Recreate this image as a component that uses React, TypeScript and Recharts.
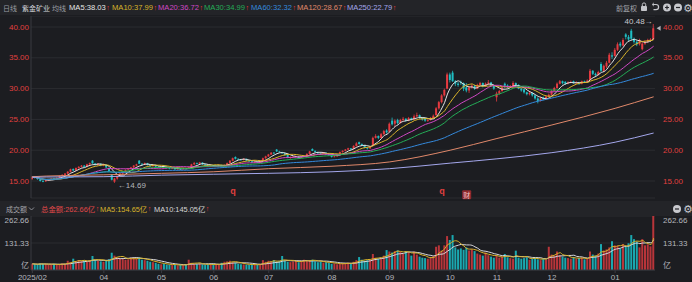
import React from 'react';
import { ComposedChart, Bar, Line, XAxis, YAxis, CartesianGrid, Cell, ReferenceDot } from 'recharts';

// month axis: label and trading days in each month
const monthLabels = ['2025/02', '03', '04', '05', '06', '07', '08', '09', '10', '11', '12', '01'];
const monthDays = [5, 21, 21, 19, 20, 23, 21, 22, 17, 20, 23, 15];
const skippedLabels = ['03'];

// daily candles: [open, high, low, close]
const febCandles = [
  [15.3, 15.8, 15.2, 15.7], [15.7, 15.8, 15.4, 15.5], [15.5, 15.6, 15.2, 15.3], [15.3, 15.4, 14.9, 15.0], [15.0, 15.2, 14.8, 14.95],
];
const marCandles = [
  [14.95, 15.2, 14.85, 15.1], [15.1, 15.35, 15.0, 15.3], [15.3, 15.5, 15.2, 15.4], [15.45, 15.5, 15.25, 15.35], [15.35, 15.6, 15.3, 15.5],
  [15.5, 15.9, 15.45, 15.8], [15.8, 16.1, 15.7, 16.0], [16.0, 16.3, 15.9, 16.2], [16.2, 16.6, 16.1, 16.5], [16.5, 17.0, 16.4, 16.9],
  [16.95, 17.05, 16.6, 16.7], [16.7, 17.2, 16.6, 17.1], [17.1, 17.4, 17.0, 17.3], [17.3, 17.6, 17.2, 17.5], [17.5, 17.6, 17.2, 17.3],
  [17.3, 17.8, 17.25, 17.7], [17.7, 18.0, 17.6, 17.9], [18.3, 18.4, 17.8, 17.85], [17.85, 17.9, 17.5, 17.6], [17.6, 17.9, 17.5, 17.8],
  [17.8, 17.85, 17.4, 17.5],
];
const aprCandles = [
  [17.5, 17.8, 17.4, 17.7], [17.6, 17.7, 17.1, 17.2], [17.1, 17.2, 16.5, 16.6], [16.0, 16.1, 15.1, 15.2], [14.9, 15.5, 14.69, 15.4],
  [15.4, 15.9, 15.2, 15.8], [15.9, 16.3, 15.8, 16.2], [16.2, 16.6, 16.0, 16.5], [16.5, 16.9, 16.4, 16.8], [16.9, 17.1, 16.7, 17.0],
  [17.0, 17.3, 16.9, 17.2], [17.2, 17.6, 17.1, 17.5], [17.5, 17.8, 17.4, 17.7], [18.3, 18.4, 17.75, 17.8], [17.8, 17.9, 17.5, 17.7],
  [17.7, 18.0, 17.6, 17.9], [17.9, 17.95, 17.5, 17.6], [17.6, 17.7, 17.3, 17.4], [17.4, 17.7, 17.3, 17.6], [17.6, 17.65, 17.2, 17.3],
  [17.3, 17.4, 17.1, 17.2],
];
const mayCandles = [
  [17.2, 17.4, 17.1, 17.3], [17.5, 17.6, 17.2, 17.3], [17.3, 17.35, 17.0, 17.1], [17.1, 17.2, 16.9, 17.0], [17.0, 17.2, 16.95, 17.1],
  [17.1, 17.15, 16.8, 16.9], [16.9, 17.1, 16.85, 17.0], [17.0, 17.05, 16.8, 16.9], [16.9, 17.2, 16.85, 17.1], [17.1, 17.15, 16.9, 17.0],
  [17.0, 17.3, 16.95, 17.2], [17.2, 17.8, 17.2, 17.7], [17.7, 18.1, 17.6, 17.9], [17.9, 18.0, 17.7, 17.8], [17.8, 18.1, 17.7, 18.0],
  [18.0, 18.05, 17.6, 17.7], [17.7, 17.8, 17.4, 17.5], [17.5, 17.6, 17.3, 17.4], [17.4, 17.6, 17.35, 17.5],
];
const junCandles = [
  [17.5, 17.55, 17.3, 17.4], [17.4, 17.6, 17.35, 17.5], [17.5, 17.7, 17.45, 17.6], [17.6, 17.65, 17.35, 17.4], [17.4, 17.7, 17.35, 17.6],
  [17.6, 18.0, 17.55, 17.9], [17.9, 18.4, 17.85, 18.3], [18.3, 18.8, 18.2, 18.7], [18.9, 19.0, 18.5, 18.6], [18.6, 18.7, 18.4, 18.5],
  [18.5, 18.6, 18.3, 18.4], [18.4, 18.7, 18.35, 18.6], [18.6, 18.65, 18.2, 18.3], [18.3, 18.4, 18.1, 18.2], [18.2, 18.3, 17.9, 18.0],
  [18.0, 18.2, 17.9, 18.1], [18.1, 18.15, 17.9, 18.0], [18.0, 18.4, 17.95, 18.3], [18.3, 18.8, 18.25, 18.7], [18.7, 19.1, 18.6, 19.0],
];
const julCandles = [
  [19.0, 19.4, 18.9, 19.3], [19.3, 19.7, 19.2, 19.6], [19.6, 19.7, 19.35, 19.5], [20.1, 20.2, 19.7, 19.8], [19.8, 19.9, 19.6, 19.7],
  [19.7, 19.75, 19.4, 19.5], [19.5, 19.55, 19.1, 19.2], [19.2, 19.3, 18.7, 18.8], [18.8, 19.0, 18.6, 18.9], [18.85, 19.05, 18.75, 18.95],
  [18.95, 19.1, 18.85, 19.0], [19.0, 19.05, 18.7, 18.8], [18.8, 19.1, 18.75, 19.0], [19.0, 19.2, 18.9, 19.1], [19.1, 19.5, 19.05, 19.4],
  [19.4, 19.9, 19.35, 19.8], [20.2, 20.3, 19.85, 19.9], [19.9, 19.95, 19.6, 19.7], [19.7, 19.75, 19.4, 19.5], [19.5, 19.6, 19.3, 19.4],
  [19.4, 19.7, 19.35, 19.6], [19.6, 19.65, 19.25, 19.3], [19.3, 19.4, 19.1, 19.2],
];
const augCandles = [
  [19.2, 19.25, 18.8, 18.9], [18.9, 19.1, 18.85, 19.0], [19.0, 19.5, 18.95, 19.4], [19.4, 19.8, 19.35, 19.7], [19.7, 20.0, 19.6, 19.9],
  [19.9, 20.2, 19.8, 20.1], [20.1, 20.4, 20.0, 20.3], [20.3, 20.35, 20.0, 20.2], [20.2, 20.8, 20.15, 20.7], [20.7, 21.3, 20.6, 21.1],
  [21.3, 21.4, 20.9, 21.0], [21.0, 21.1, 20.7, 20.8], [20.8, 20.85, 20.3, 20.4], [20.4, 20.5, 20.1, 20.3], [20.3, 20.7, 20.2, 20.6],
  [20.7, 22.2, 20.6, 22.0], [22.0, 22.6, 21.9, 22.3], [22.3, 22.4, 21.8, 22.0], [22.0, 22.8, 21.9, 22.6], [22.6, 23.3, 22.5, 23.1],
  [23.2, 23.4, 22.7, 22.9],
];
const sepCandles = [
  [23.0, 24.5, 22.9, 24.3], [24.8, 25.3, 24.0, 24.2], [24.3, 25.0, 23.8, 24.8], [24.9, 25.1, 24.2, 24.4], [24.4, 25.1, 24.3, 24.9],
  [24.9, 25.4, 24.7, 25.1], [25.1, 25.2, 24.6, 24.8], [24.8, 25.4, 24.7, 25.2], [25.2, 25.3, 24.8, 25.0], [25.0, 25.8, 24.9, 25.5],
  [25.5, 26.1, 25.4, 25.7], [25.7, 25.8, 25.1, 25.3], [25.3, 25.4, 24.8, 25.0], [25.2, 25.3, 24.6, 24.8], [24.8, 25.1, 24.6, 24.9],
  [24.9, 25.4, 24.8, 25.2], [25.2, 25.8, 25.1, 25.6], [25.7, 27.0, 25.6, 26.8], [26.8, 28.0, 26.6, 27.8], [27.8, 29.1, 27.6, 28.9],
  [28.9, 30.0, 28.7, 29.8], [30.0, 32.6, 29.9, 32.3],
];
const octCandles = [
  [32.3, 32.6, 31.0, 31.4], [32.6, 32.9, 31.1, 31.2], [31.2, 31.4, 30.4, 30.8], [30.8, 31.1, 30.3, 30.6], [31.1, 31.3, 30.6, 30.9],
  [30.9, 31.0, 29.6, 30.0], [30.2, 30.9, 29.4, 29.7], [29.7, 30.4, 29.3, 30.2], [30.2, 30.7, 30.0, 30.5], [30.5, 30.6, 29.8, 30.0],
  [30.0, 30.8, 29.9, 30.6], [30.6, 31.1, 30.4, 30.9], [30.9, 31.0, 30.2, 30.4], [30.4, 31.0, 30.3, 30.8], [30.8, 31.4, 30.6, 31.0],
  [31.0, 31.1, 30.3, 30.5], [30.5, 30.6, 29.8, 30.0],
];
const novCandles = [
  [28.6, 29.5, 27.9, 29.2], [29.2, 29.8, 29.0, 29.6], [29.6, 30.4, 29.5, 30.2], [30.8, 31.0, 30.1, 30.5], [30.5, 30.7, 30.1, 30.3],
  [30.3, 30.6, 30.1, 30.4], [30.2, 31.2, 30.1, 30.9], [30.9, 31.0, 30.4, 30.6], [30.6, 30.7, 29.9, 30.0], [30.0, 30.1, 29.5, 29.7],
  [29.9, 30.0, 29.2, 29.4], [29.4, 29.5, 28.9, 29.1], [29.1, 29.5, 28.9, 29.3], [29.3, 29.4, 28.7, 28.9], [28.9, 29.0, 28.2, 28.4],
  [28.4, 28.6, 27.6, 28.0], [28.0, 28.6, 27.9, 28.4], [28.6, 28.7, 28.1, 28.3], [28.3, 28.9, 28.2, 28.7], [28.7, 29.2, 28.6, 29.0],
];
const decCandles = [
  [29.0, 29.8, 28.9, 29.6], [29.6, 30.3, 29.5, 30.1], [30.1, 31.0, 30.0, 30.8], [30.8, 31.4, 30.7, 31.2], [31.2, 31.3, 30.7, 30.9],
  [31.1, 31.2, 30.6, 30.8], [30.8, 31.2, 30.7, 31.0], [31.0, 31.3, 30.9, 31.1], [31.2, 31.3, 30.8, 30.9], [30.9, 31.2, 30.8, 31.0],
  [31.0, 31.1, 30.6, 30.8], [30.8, 31.3, 30.7, 31.2], [31.2, 31.3, 30.9, 31.1], [31.1, 31.5, 31.0, 31.3], [31.4, 33.2, 31.3, 32.9],
  [32.9, 33.0, 32.2, 32.4], [32.4, 32.6, 32.0, 32.2], [32.2, 32.9, 32.1, 32.7], [34.0, 34.3, 32.7, 32.9], [32.9, 33.9, 32.7, 33.7],
  [33.6, 34.5, 33.3, 34.2], [34.2, 35.8, 34.1, 35.5], [35.4, 35.9, 34.8, 35.2],
];
const janCandles = [
  [35.3, 36.6, 35.2, 36.3], [36.3, 37.5, 36.1, 37.2], [37.3, 37.6, 36.7, 37.0], [37.0, 38.2, 36.9, 37.9], [38.8, 39.0, 38.0, 38.4],
  [38.4, 38.7, 37.7, 38.0], [39.4, 39.7, 37.8, 38.1], [38.1, 38.3, 37.3, 37.6], [37.6, 37.8, 36.9, 37.2], [37.2, 38.1, 37.0, 37.9],
  [36.4, 37.6, 36.2, 37.3], [37.3, 37.9, 37.1, 37.6], [37.6, 38.1, 37.4, 37.9], [37.9, 38.2, 37.6, 38.0], [38.0, 40.48, 37.9, 39.8],
];

// daily turnover, 亿元
const febTurnover = [30, 28, 27, 32, 30];
const marTurnover = [28, 26, 27, 30, 25, 28, 32, 30, 45, 38, 55, 42, 48, 44, 46, 42, 45, 68, 50, 45, 42];
const aprTurnover = [40, 48, 52, 84, 70, 62, 58, 55, 50, 52, 60, 58, 55, 62, 50, 48, 45, 40, 38, 35, 30];
const mayTurnover = [28, 30, 26, 25, 24, 27, 22, 25, 24, 26, 50, 35, 30, 28, 30, 27, 26, 28, 25];
const junTurnover = [28, 30, 27, 35, 40, 42, 45, 38, 36, 30, 28, 27, 26, 25, 28, 24, 26, 30, 48, 40];
const julTurnover = [45, 42, 48, 40, 44, 68, 45, 40, 38, 42, 46, 38, 45, 50, 44, 48, 50, 42, 38, 40, 36, 38, 35];
const augTurnover = [30, 32, 28, 30, 32, 34, 36, 30, 40, 48, 63, 50, 45, 48, 52, 78, 60, 55, 58, 70, 97];
const sepTurnover = [90, 85, 92, 96, 88, 80, 92, 85, 70, 90, 75, 65, 60, 58, 55, 62, 68, 113, 120, 95, 120, 165];
const octTurnover = [146, 170, 110, 100, 105, 98, 110, 95, 100, 92, 80, 75, 70, 85, 72, 65, 60];
const novTurnover = [68, 60, 65, 78, 62, 58, 55, 94, 60, 55, 58, 62, 50, 55, 60, 52, 48, 55, 50, 113];
const decTurnover = [75, 70, 90, 72, 65, 60, 58, 55, 62, 55, 58, 60, 52, 55, 90, 75, 70, 80, 126, 95, 100, 110, 140];
const janTurnover = [120, 118, 105, 126, 115, 130, 170, 150, 138, 110, 150, 120, 125, 115, 262.66];

// long averages, sampled at each month start and at the last day
const ma120Points = [15.7, 15.8, 16.0, 16.25, 16.5, 17.0, 17.4, 18.1, 20.0, 21.9, 24.1, 26.8, 28.67];
const ma250Points = [15.6, 15.65, 15.7, 15.95, 16.1, 16.25, 16.5, 17.0, 17.9, 18.6, 19.6, 21.3, 22.79];

const priceTicks = [15, 20, 25, 30, 35, 40];
const volumeTicks = [0, 131.33, 262.66];

const maLegend = [
  { name: 'MA5', value: '38.03', color: '#e6e6e6', key: 'ma5', left: 69 },
  { name: 'MA10', value: '37.99', color: '#d9b42a', key: 'ma10', left: 112 },
  { name: 'MA20', value: '36.72', color: '#cf48c4', key: 'ma20', left: 158 },
  { name: 'MA30', value: '34.99', color: '#24ad57', key: 'ma30', left: 204 },
  { name: 'MA60', value: '32.32', color: '#3489dc', key: 'ma60', left: 251 },
  { name: 'MA120', value: '28.67', color: '#e0886a', key: 'ma120', left: 297 },
  { name: 'MA250', value: '22.79', color: '#a4a7ec', key: 'ma250', left: 347 },
];
const volumeLegend = [
  { text: '总金额:262.66亿', color: '#e04848', left: 41 },
  { text: 'MA5:154.65亿', color: '#d9b42a', left: 100 },
  { text: 'MA10:145.05亿', color: '#d6d6d6', left: 154 },
];

const UP = '#e63a40';
const DOWN = '#1fbec4';
const VOL_UP = '#b8353a';
const VOL_DOWN = '#1aa8b0';
const GRID = '#2b2c31';
const AXIS = '#393a40';
const PLOT_BG = '#1c1d21';
const BAR_BG = '#232428';
const FONT = '"Liberation Sans", Arial, "Noto Sans CJK SC", sans-serif';

const candles = [
  ...febCandles, ...marCandles, ...aprCandles, ...mayCandles, ...junCandles, ...julCandles,
  ...augCandles, ...sepCandles, ...octCandles, ...novCandles, ...decCandles, ...janCandles,
];
const turnover = [
  ...febTurnover, ...marTurnover, ...aprTurnover, ...mayTurnover, ...junTurnover, ...julTurnover,
  ...augTurnover, ...sepTurnover, ...octTurnover, ...novTurnover, ...decTurnover, ...janTurnover,
];

const monthStarts = monthDays.map((_, m) => monthDays.slice(0, m).reduce((s, n) => s + n, 0));
const lastIdx = candles.length - 1;
const anchorIdx = [...monthStarts, lastIdx];

// trailing mean over up to n values
const trailing = (arr: number[], i: number, n: number) => {
  const from = Math.max(0, i - n + 1);
  let sum = 0;
  for (let k = from; k <= i; k++) sum += arr[k];
  return sum / (i - from + 1);
};

const closes = candles.map((c) => c[3]);

const rows = candles.map(([o, h, l, c], i) => {
  const a = anchorIdx.indexOf(i);
  return {
    i,
    o, h, l, c,
    range: [l, h],
    up: c >= o,
    ma5: trailing(closes, i, 5),
    ma10: trailing(closes, i, 10),
    ma20: trailing(closes, i, 20),
    ma30: trailing(closes, i, 30),
    ma60: trailing(closes, i, 60),
    ma120: a >= 0 ? ma120Points[a] : null,
    ma250: a >= 0 ? ma250Points[a] : null,
    vol: turnover[i],
    vma5: trailing(turnover, i, 5),
    vma10: trailing(turnover, i, 10),
  };
});

const highIdx = closes.reduce((best, _, i) => (candles[i][1] > candles[best][1] ? i : best), 0);
const lowIdx = closes.reduce((best, _, i) => (candles[i][2] < candles[best][2] ? i : best), 0);

const labelTicks = monthStarts.filter((_, m) => !skippedLabels.includes(monthLabels[m]));
const labelFor = (i: number) => monthLabels[monthStarts.indexOf(i)];

// candle drawn inside the box recharts gives for the [low, high] range
const Candle = (props: any) => {
  const { x, y, width, height, payload } = props;
  if (x == null || y == null) return null;
  const top = Math.min(y, y + height);
  const span = Math.abs(height);
  const { o, h, l, c } = payload;
  const yOf = (v: number) => (h === l ? top : top + ((h - v) / (h - l)) * span);
  const color = c >= o ? UP : DOWN;
  const bodyTop = yOf(Math.max(o, c));
  const bodyBottom = yOf(Math.min(o, c));
  const cx = x + width / 2;
  return (
    <g>
      <line x1={cx} x2={cx} y1={top} y2={top + span} stroke={color} strokeWidth={0.8} />
      <rect x={x} y={bodyTop} width={width} height={Math.max(0.8, bodyBottom - bodyTop)} fill={color} />
    </g>
  );
};

const PriceTick = ({ y, payload, side }: any) => (
  <text
    x={side === 'l' ? 29 : 663}
    y={y}
    textAnchor={side === 'l' ? 'end' : 'start'}
    dominantBaseline="central"
    fill="#e0403f"
    fontSize={8}
    fontFamily={FONT}
  >
    {payload.value.toFixed(2)}
  </text>
);

const VolumeTick = ({ y, payload, side }: any) => {
  const v = payload.value;
  const dy = v === 0 ? -5 : v === volumeTicks[2] ? 4 : 0;
  return (
    <text
      x={side === 'l' ? 29 : 663}
      y={y + dy}
      textAnchor={side === 'l' ? 'end' : 'start'}
      dominantBaseline="central"
      fill="#b4b6bc"
      fontSize={8}
      fontFamily={FONT}
    >
      {v === 0 ? '亿' : v.toFixed(2)}
    </text>
  );
};

const MonthTick = ({ x, payload }: any) => (
  <text x={x} y={61} textAnchor="middle" dominantBaseline="central" fill="#b4b6bc" fontSize={8} fontFamily={FONT}>
    {labelFor(payload.value)}
  </text>
);

const Arrow = () => <span style={{ color: '#f03a3a', fontSize: 7, marginLeft: 0.5 }}>↑</span>;

const HeaderIcons = () => (
  <svg width={692} height={282} style={{ position: 'absolute', left: 0, top: 0, pointerEvents: 'none' }}>
    {/* lock */}
    <rect x={641} y={6} width={6} height={5} rx={0.8} fill="#c4c5ca" />
    <path d="M642.3 6 V4.6 a1.7 1.7 0 0 1 3.4 0 V6" stroke="#c4c5ca" strokeWidth={1} fill="none" />
    {/* undo */}
    <path d="M653 4.5 h3 a2.6 2.6 0 0 1 0 5.2 h-2.5" stroke="#c4c5ca" strokeWidth={1.2} fill="none" />
    <path d="M653.8 3 L652.2 4.5 L653.8 6" stroke="#c4c5ca" strokeWidth={1} fill="none" />
    {/* zoom in / out */}
    <circle cx={667} cy={7.5} r={4} fill="#c8c9ce" />
    <path d="M665 7.5 h4 M667 5.5 v4" stroke={BAR_BG} strokeWidth={1.2} />
    <circle cx={678} cy={7.5} r={4} fill="#c8c9ce" />
    <path d="M676 7.5 h4" stroke={BAR_BG} strokeWidth={1.2} />
    <text x={688} y={8} textAnchor="middle" dominantBaseline="central" fontSize={11} fill="#c8c9ce" fontFamily="DejaVu Sans">⚙</text>
    {/* volume panel icons */}
    <circle cx={677} cy={209} r={4} fill="#c8c9ce" />
    <path d="M675 209 h4" stroke={BAR_BG} strokeWidth={1.2} />
    <text x={688} y={209.5} textAnchor="middle" dominantBaseline="central" fontSize={11} fill="#c8c9ce" fontFamily="DejaVu Sans">⚙</text>
    {/* dropdown chevron */}
    <path d="M29 207.5 l2.5 2.5 l2.5 -2.5" stroke="#9a9ca3" strokeWidth={0.9} fill="none" />
  </svg>
);

const barText = (left: number, top: number, size: number, color: string): React.CSSProperties => ({
  position: 'absolute',
  left,
  top,
  height: 13,
  display: 'flex',
  alignItems: 'center',
  fontSize: size,
  color,
  whiteSpace: 'nowrap',
});

const App: React.FC = () => {
  return (
    <div style={{ position: 'absolute', left: 0, top: 0, width: 692, height: 282, background: PLOT_BG, overflow: 'hidden', fontFamily: FONT }}>
      {/* top info bar */}
      <div style={{ position: 'absolute', left: 0, top: 0, width: 692, height: 15, background: BAR_BG }} />
      <div style={barText(3, 1, 7, '#9a9ca3')}>日线</div>
      <div style={barText(22, 1, 7, '#d4d6dc')}>紫金矿业</div>
      <div style={barText(52, 1, 7, '#9a9ca3')}>均线</div>
      {maLegend.map((m) => (
        <div key={m.key} style={barText(m.left, 1, 7.6, m.color)}>
          {m.name}:{m.value}
          <Arrow />
        </div>
      ))}
      <div style={barText(616, 1, 7, '#a4a6ac')}>前复权</div>

      {/* price panel */}
      <div style={{ position: 'absolute', left: 0, top: 16 }}>
        <ComposedChart width={692} height={184} data={rows} margin={{ top: 0, right: 0, bottom: 2, left: 0 }} barCategoryGap={0}>
          <CartesianGrid yAxisId="l" vertical={false} stroke={GRID} />
          <XAxis dataKey="i" type="category" hide />
          <YAxis
            yAxisId="l"
            width={31}
            domain={[12.24, 41.79]}
            ticks={priceTicks}
            interval={0}
            allowDataOverflow
            axisLine={{ stroke: AXIS }}
            tickLine={false}
            tick={<PriceTick side="l" />}
          />
          <YAxis
            yAxisId="r"
            orientation="right"
            width={37}
            domain={[12.24, 41.79]}
            ticks={priceTicks}
            interval={0}
            allowDataOverflow
            axisLine={false}
            tickLine={false}
            tick={<PriceTick side="r" />}
          />
          <Line yAxisId="r" dataKey="c" stroke="none" dot={false} activeDot={false} isAnimationActive={false} />
          {maLegend.map((m) => (
            <Line
              key={m.key}
              yAxisId="l"
              dataKey={m.key}
              type="monotone"
              stroke={m.color}
              strokeWidth={1}
              dot={false}
              activeDot={false}
              connectNulls
              isAnimationActive={false}
            />
          ))}
          <Bar yAxisId="l" dataKey="range" barSize={2} isAnimationActive={false} shape={(p: any) => <Candle {...p} />} />
          <ReferenceDot
            yAxisId="l"
            x={highIdx}
            y={candles[highIdx][1]}
            ifOverflow="visible"
            shape={({ cx, cy }: any) => (
              <text x={cx - 1} y={cy - 3} textAnchor="end" dominantBaseline="central" fill="#c8c9ce" fontSize={8} fontFamily={FONT}>
                40.48→
              </text>
            )}
          />
          <ReferenceDot
            yAxisId="l"
            x={lowIdx}
            y={candles[lowIdx][2]}
            ifOverflow="visible"
            shape={({ cx, cy }: any) => (
              <text x={cx + 3} y={cy + 3} textAnchor="start" dominantBaseline="central" fill="#b4b6bc" fontSize={8} fontFamily={FONT}>
                ←14.69
              </text>
            )}
          />
          <ReferenceDot
            yAxisId="l"
            x={lastIdx}
            y={closes[lastIdx]}
            ifOverflow="visible"
            shape={({ cx, cy }: any) => <path d={`M${cx + 3} ${cy} l4 -2.5 v5 z`} fill="#b4b6bc" />}
          />
          {[73, 149].map((d) => (
            <ReferenceDot
              key={d}
              yAxisId="l"
              x={d}
              y={13.3}
              ifOverflow="visible"
              shape={({ cx, cy }: any) => (
                <text x={cx} y={cy} textAnchor="middle" dominantBaseline="central" fill="#e0403f" fontSize={9} fontWeight="bold" fontFamily={FONT}>
                  q
                </text>
              )}
            />
          ))}
          <ReferenceDot
            yAxisId="l"
            x={158}
            y={12.75}
            ifOverflow="visible"
            shape={({ cx, cy }: any) => (
              <g>
                <rect x={cx - 4.5} y={cy - 4.5} width={9} height={9} rx={1} fill="#8f2a2e" />
                <text x={cx} y={cy + 0.5} textAnchor="middle" dominantBaseline="central" fill="#f3c6c6" fontSize={7} fontFamily={FONT}>
                  财
                </text>
              </g>
            )}
          />
        </ComposedChart>
      </div>

      {/* volume info bar */}
      <div style={{ position: 'absolute', left: 0, top: 201, width: 692, height: 15, background: BAR_BG }} />
      <div style={barText(6, 202, 7, '#a4a6ac')}>成交额</div>
      {volumeLegend.map((v) => (
        <div key={v.text} style={barText(v.left, 202, 7.4, v.color)}>
          {v.text}
          <Arrow />
        </div>
      ))}

      {/* volume panel */}
      <div style={{ position: 'absolute', left: 0, top: 216 }}>
        <ComposedChart width={692} height={66} data={rows} margin={{ top: 0, right: 0, bottom: 0, left: 0 }} barCategoryGap={0}>
          <CartesianGrid yAxisId="l" vertical={false} stroke={GRID} />
          <XAxis
            dataKey="i"
            type="category"
            height={12}
            ticks={labelTicks}
            interval={0}
            axisLine={{ stroke: AXIS }}
            tickLine={{ stroke: AXIS }}
            tickSize={3}
            tick={<MonthTick />}
          />
          <YAxis
            yAxisId="l"
            width={31}
            domain={[0, 262.66]}
            ticks={volumeTicks}
            interval={0}
            allowDataOverflow
            axisLine={{ stroke: AXIS }}
            tickLine={false}
            tick={<VolumeTick side="l" />}
          />
          <YAxis
            yAxisId="r"
            orientation="right"
            width={37}
            domain={[0, 262.66]}
            ticks={volumeTicks}
            interval={0}
            allowDataOverflow
            axisLine={false}
            tickLine={false}
            tick={<VolumeTick side="r" />}
          />
          <Line yAxisId="r" dataKey="vol" stroke="none" dot={false} activeDot={false} isAnimationActive={false} />
          <Bar yAxisId="l" dataKey="vol" barSize={2} isAnimationActive={false}>
            {rows.map((r) => (
              <Cell key={r.i} fill={r.up ? VOL_UP : VOL_DOWN} />
            ))}
          </Bar>
          <Line yAxisId="l" dataKey="vma10" type="monotone" stroke="#d8d8dc" strokeWidth={1} dot={false} activeDot={false} isAnimationActive={false} />
          <Line yAxisId="l" dataKey="vma5" type="monotone" stroke="#d9b42a" strokeWidth={1} dot={false} activeDot={false} isAnimationActive={false} />
        </ComposedChart>
      </div>

      <HeaderIcons />
    </div>
  );
};

export default App;
